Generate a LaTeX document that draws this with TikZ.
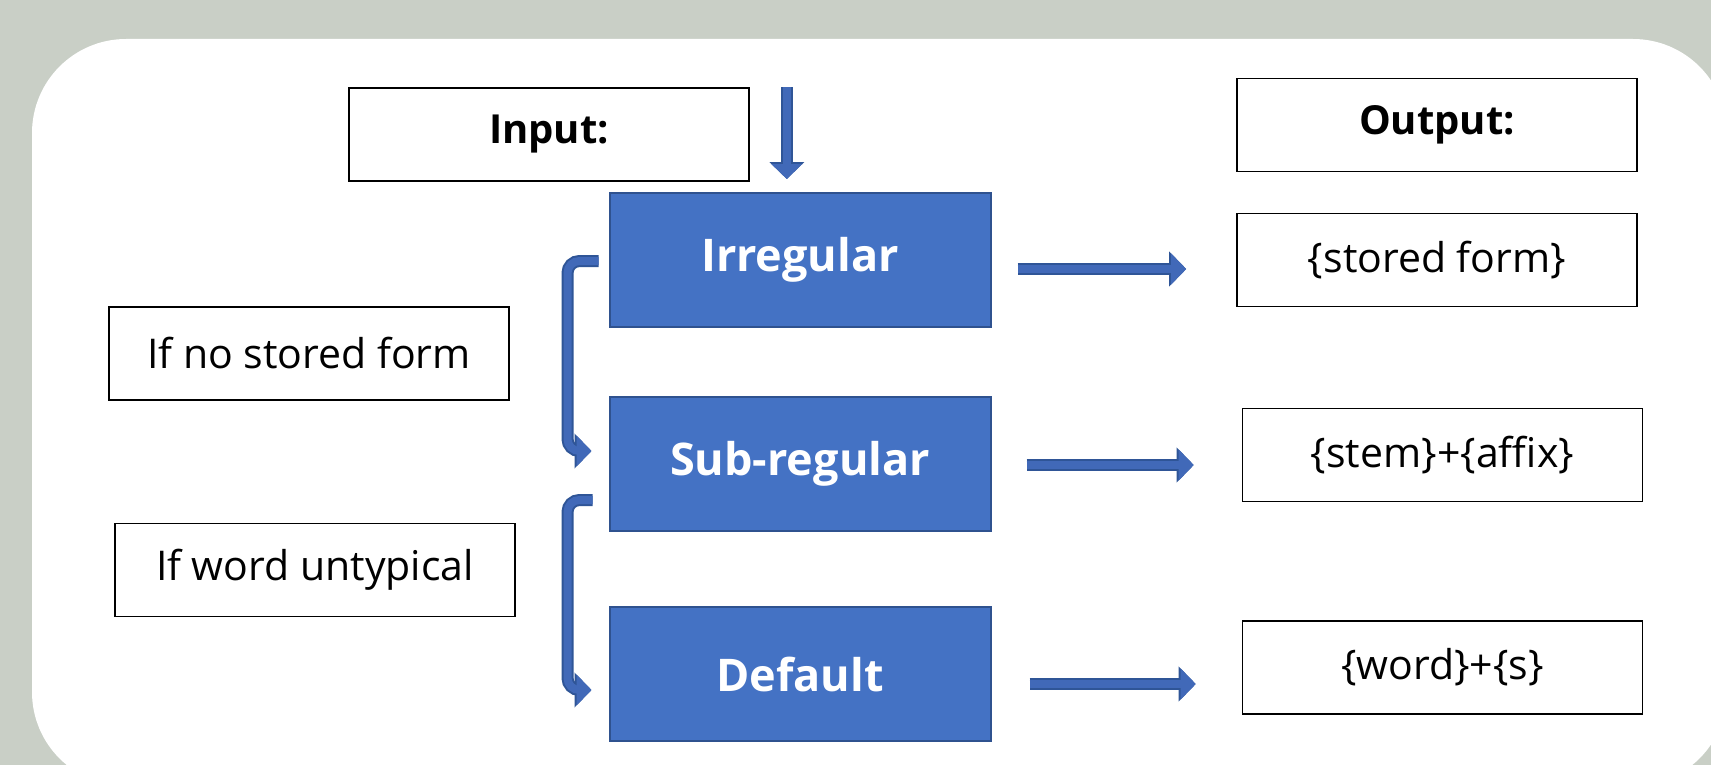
\documentclass[tikz,border=0pt]{standalone}
\usepackage{fontspec}
\setmainfont{Open Sans}
\usetikzlibrary{arrows.meta,positioning}
\definecolor{panelgrey}{HTML}{C9CFC6}
\definecolor{boxblue}{HTML}{4472C4}
\definecolor{boxrim}{HTML}{2F528F}
\definecolor{arrowblue}{HTML}{4169B8}
\definecolor{arrowrim}{HTML}{2F5597}

\begin{document}
\begin{tikzpicture}[node distance=3cm,on grid,
		note/.style={draw,line width=0.8pt,minimum width=200pt,minimum height=46.5pt,font=\fontsize{20.5}{24}\selectfont},
		headbox/.style={note,font=\fontsize{20}{24}\selectfont\bfseries},
		route/.style={draw=boxrim,fill=boxblue,line width=1pt,text=white,minimum width=190.5pt,minimum height=67pt,font=\fontsize{22.5}{26}\selectfont\bfseries},
		pipe/.style={draw=arrowblue,line width=4pt,-{Triangle[width=15pt,length=7.5pt]},
			preaction={draw=arrowrim,line width=6pt,-{Triangle[width=17pt,length=8.5pt]}}}]
				\useasboundingbox (0,0) rectangle (855.5pt,-382.5pt);
				\begin{scope}
				\clip (0,0) rectangle (855.5pt,-382.5pt);
				\fill[panelgrey] (0,0) rectangle (855.5pt,-382.5pt);
				\fill[white,rounded corners=47pt] (16pt,-19.5pt) rectangle (863.5pt,-393pt);
				\end{scope}

				\node[route   ]    (irr)     at (400pt,-130pt)                     {Irregular};
				\node[route   ]    (sub)     [below=102pt of irr]                  {Sub-regular};
				\node[route   ]    (def)     [below=105pt of sub]                  {Default};
				\node[headbox ]    (inp)     [above left=62.75pt and 125.5pt of irr] {Input:};
				\node[note    ]    (stored)  [right=318.5pt of irr]                {\{stored form\}};
				\node[headbox ]    (outp)    [above=67.5pt of stored]              {Output:};
				\node[note    ]    (stem)    [below right=97.5pt and 2.75pt of stored] {\{stem\}+\{affix\}};
				\node[note    ]    (wrds)    [below=106.25pt of stem]              {\{word\}+\{s\}};
				\node[note    ]    (nostore) [below left=46.75pt and 245.5pt of irr] {If no stored form};
				\node[note    ]    (untyp)   [below right=108.25pt and 3pt of nostore] {If word untypical};
				\coordinate        (feed)    at ([xshift=18.5pt]inp.north east);

				\draw[pipe,shorten >=6.5pt] (feed) -- (feed |- irr.north);
				\path
				([yshift=-4.5pt]irr.east) edge [pipe,shorten <=13pt,shorten >=25pt]   ([yshift=-4.5pt]irr.east -| stored.west)
				([yshift=-0.5pt]sub.east) edge [pipe,shorten <=17.5pt,shorten >=24pt] ([yshift=-0.5pt]sub.east -| stem.west)
				([yshift=-5pt]def.east)   edge [pipe,shorten <=19pt,shorten >=23pt]   ([yshift=-5pt]def.east -| wrds.west);
				\draw[pipe,rounded corners=6pt] ([xshift=-5pt,yshift=-0.5pt]irr.west) -- ++(-15.5pt,0) |- ([xshift=-8.5pt,yshift=6.5pt]sub.west);
				\draw[pipe,rounded corners=6pt] ([xshift=-8pt,yshift=-18pt]sub.west) -- ++(-12.5pt,0) |- ([xshift=-8.5pt,yshift=-8pt]def.west);

			\end{tikzpicture}
\end{document}
